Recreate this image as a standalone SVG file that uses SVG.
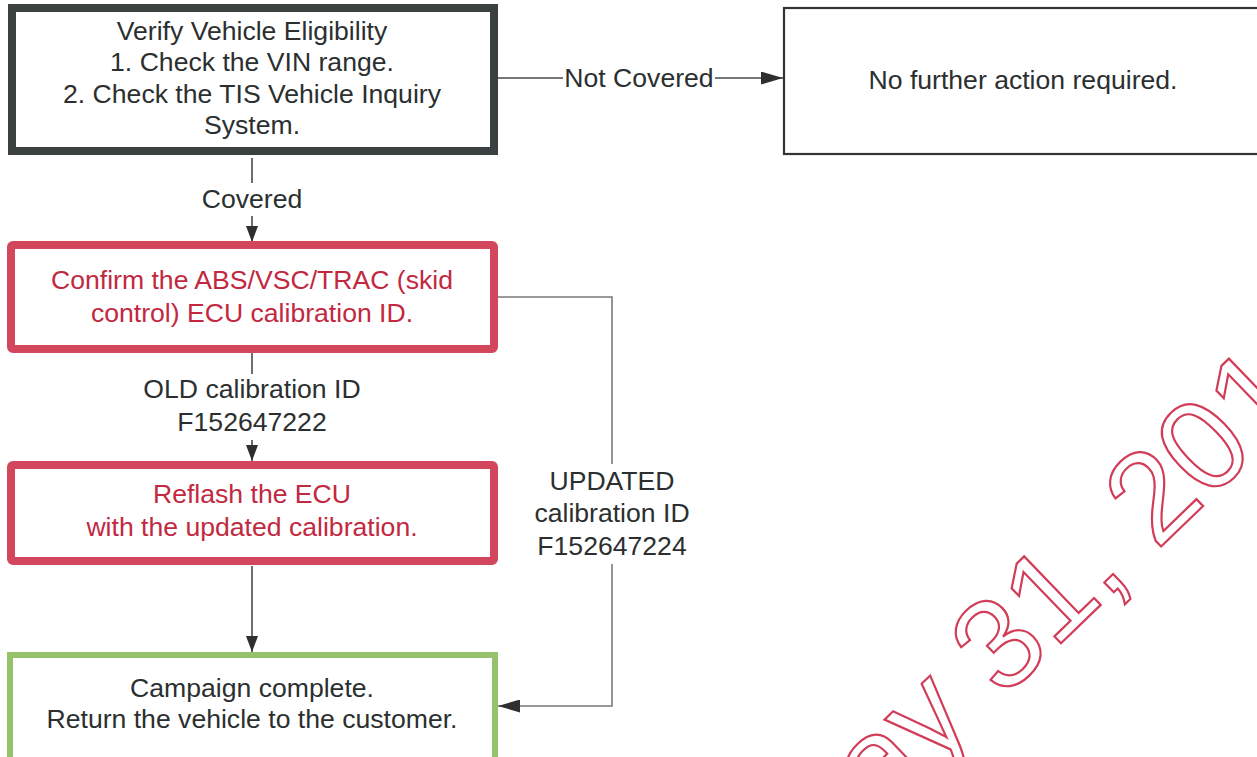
<svg xmlns="http://www.w3.org/2000/svg" width="1257" height="757" viewBox="0 0 1257 757">
<defs>
<style>
text{font-family:"Liberation Sans",Arial,sans-serif;font-size:26.6px;text-anchor:middle}
.dk{fill:#2b2f30}
.rd{fill:#c2283f}
.conn{stroke:#4a4a4a;stroke-width:1.6;fill:none}
.conn2{stroke:#7a7a7a;stroke-width:1.6;fill:none}
.wm{font-size:128px;fill:none;stroke:#d23c58;stroke-width:2.2;text-anchor:start}
</style>
<marker id="ahd" viewBox="0 0 12 16" refX="6" refY="16" markerWidth="12" markerHeight="16" markerUnits="userSpaceOnUse" orient="0">
<path d="M0,0 L12,0 L6,16 z" fill="#2f2f2f"/>
</marker>
<marker id="ahr" viewBox="0 0 22 13" refX="22" refY="6.5" markerWidth="22" markerHeight="13" markerUnits="userSpaceOnUse" orient="auto">
<path d="M0,0 L22,6.5 L0,13 z" fill="#2f2f2f"/>
</marker>
</defs>
<rect width="1257" height="757" fill="#fff"/>
<g id="watermark">
<text class="wm" transform="translate(880,818) rotate(-44)">ay 31, 201</text>
</g>
<g id="connectors">
<path class="conn" d="M497,78 H563"/>
<path class="conn" d="M715,78 H783" marker-end="url(#ahr)"/>
<text class="dk" x="639" y="87">Not Covered</text>
<path class="conn" d="M252,158 V183"/>
<text class="dk" x="252" y="208">Covered</text>
<path class="conn" d="M252,216 V242" marker-end="url(#ahd)"/>
<path class="conn" d="M252,353 V374"/>
<text class="dk" x="252" y="398">OLD calibration ID</text>
<text class="dk" x="252" y="431">F152647222</text>
<path class="conn" d="M252,440 V461" marker-end="url(#ahd)"/>
<path class="conn" d="M252,566 V652" marker-end="url(#ahd)"/>
<path class="conn2" d="M498,297 H612 V464"/>
<path class="conn2" d="M612,564 V706 H498" marker-end="url(#ahr)"/>
<text class="dk" x="612" y="490">UPDATED</text>
<text class="dk" x="612" y="522">calibration ID</text>
<text class="dk" x="612" y="555">F152647224</text>
</g>
<g id="verify">
<rect x="12" y="8" width="482" height="143" fill="#fff" stroke="#3b4041" stroke-width="8"/>
<text class="dk" x="252" y="40">Verify Vehicle Eligibility</text>
<text class="dk" x="252" y="71">1. Check the VIN range.</text>
<text class="dk" x="252" y="103">2. Check the TIS Vehicle Inquiry</text>
<text class="dk" x="252" y="134">System.</text>
</g>
<g id="noaction">
<rect x="784" y="8" width="480" height="146" fill="#fff" stroke="#333" stroke-width="2.2"/>
<text class="dk" x="1023" y="89">No further action required.</text>
</g>
<g id="confirm">
<rect x="11" y="245" width="483" height="104" fill="#fff" stroke="#d2475c" stroke-width="8" rx="2"/>
<text class="rd" x="252" y="289">Confirm the ABS/VSC/TRAC (skid</text>
<text class="rd" x="252" y="322">control) ECU calibration ID.</text>
</g>
<g id="reflash">
<rect x="11" y="465" width="483" height="96" fill="#fff" stroke="#d2475c" stroke-width="8" rx="2"/>
<text class="rd" x="252" y="503">Reflash the ECU</text>
<text class="rd" x="252" y="536">with the updated calibration.</text>
</g>
<g id="complete">
<rect x="10" y="655" width="485" height="110" fill="#fff" stroke="#95c26a" stroke-width="6"/>
<text class="dk" x="252" y="697">Campaign complete.</text>
<text class="dk" x="252" y="728">Return the vehicle to the customer.</text>
</g>
</svg>
